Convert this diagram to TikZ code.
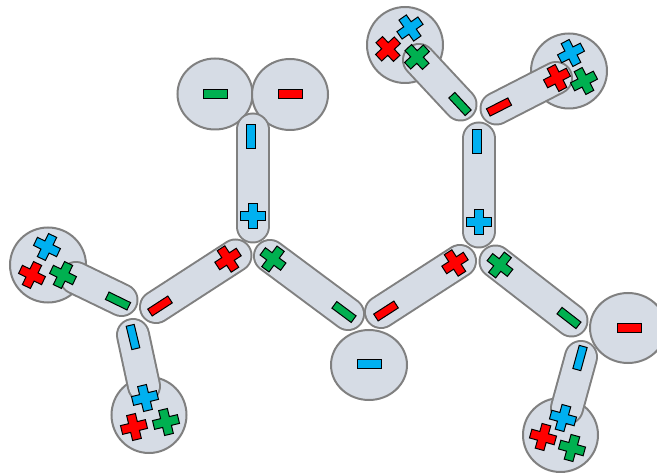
\documentclass[tikz,border=0pt]{standalone}
\definecolor{cblue}{RGB}{0,176,240}
\definecolor{cred}{RGB}{255,0,0}
\definecolor{cgreen}{RGB}{0,176,80}
\definecolor{shade}{RGB}{214,220,229}
\definecolor{rim}{RGB}{128,128,128}
\tikzset{
  pics/symplus/.style={code={\draw[line width=1pt, fill=#1]
    (-4.5,-12.8)--(4.5,-12.8)--(4.5,-4.5)--(12.8,-4.5)--(12.8,4.5)--(4.5,4.5)--
    (4.5,12.8)--(-4.5,12.8)--(-4.5,4.5)--(-12.8,4.5)--(-12.8,-4.5)--(-4.5,-4.5)--cycle;}},
  pics/symminus/.style={code={\draw[line width=1pt, fill=#1] (-12,-4.1) rectangle (12,4.1);}},
  blob/.style={draw=rim, line width=2pt, fill=shade},
  capout/.style={draw=rim, line width=34pt, line cap=round},
  capin/.style={draw=shade, line width=30pt, line cap=round},
}
\newcommand\Capsule[2]{\draw[capout] (#1) -- (#2); \draw[capin] (#1) -- (#2);}
\begin{document}
\begin{tikzpicture}[x=1pt,y=-1pt]
\clip (0,0) rectangle (657,473);
\fill[white] (0,0) rectangle (657,473);
% circles
\coordinate (c1) at (215,94);
\coordinate (c2) at (290,94.5);
\coordinate (c3) at (48,265);
\coordinate (c4) at (149,415);
\coordinate (c5) at (405,45);
\coordinate (c6) at (569,71);
\coordinate (c7) at (369,365);
\coordinate (c8) at (628,328);
\coordinate (c9) at (560.5,435);
\draw[blob] (c1) ellipse [x radius=37.5pt, y radius=35.5pt];
\draw[blob] (c2) ellipse [x radius=38pt, y radius=35.5pt];
\draw[blob] (c3) ellipse [x radius=38pt, y radius=37.5pt];
\draw[blob] (c4) ellipse [x radius=37.5pt, y radius=38pt];
\draw[blob] (c5) ellipse [x radius=38pt, y radius=38pt];
\draw[blob] (c6) ellipse [x radius=38pt, y radius=37.5pt];
\draw[blob] (c7) ellipse [x radius=38pt, y radius=35pt];
\draw[blob] (c8) ellipse [x radius=38pt, y radius=35pt];
\draw[blob] (c9) ellipse [x radius=37.5pt, y radius=37pt];
% capsule axes
\coordinate (v1a) at (252.5,129.5); \coordinate (v1b) at (252.5,226.5);
\coordinate (v2a) at (478.5,138.5); \coordinate (v2b) at (478.5,231.5);
\coordinate (lga) at (76,278);      \coordinate (lgb) at (121.5,300);
\coordinate (lba) at (133,335);     \coordinate (lbb) at (144,386);
\coordinate (lra) at (156,307);     \coordinate (lrb) at (235.5,255.5);
\coordinate (mga) at (270,256);     \coordinate (mgb) at (348,314);
\coordinate (mra) at (381,312);     \coordinate (mrb) at (460,261);
\coordinate (tla) at (419,60);      \coordinate (tlb) at (460.5,104.5);
\coordinate (tra) at (496.5,108.5); \coordinate (trb) at (556,78);
\coordinate (rga) at (495.5,261.5); \coordinate (rgb) at (571.5,320.5);
\coordinate (rba) at (581,357);     \coordinate (rbb) at (567,408);
\Capsule{v1a}{v1b}
\Capsule{v2a}{v2b}
\Capsule{lga}{lgb}
\Capsule{lba}{lbb}
\Capsule{lra}{lrb}
\Capsule{mga}{mgb}
\Capsule{mra}{mrb}
\Capsule{tla}{tlb}
\Capsule{tra}{trb}
\Capsule{rga}{rgb}
\Capsule{rba}{rbb}
% symbols
\pic at (215,94) {symminus=cgreen};
\pic at (290,94) {symminus=cred};
\pic[rotate=90] at (251,137) {symminus=cblue};
\pic at (253,216) {symplus=cblue};
\pic[rotate=35] at (410,28) {symplus=cblue};
\pic[rotate=43] at (388,49) {symplus=cred};
\pic[rotate=43] at (417,57) {symplus=cgreen};
\pic[rotate=-47] at (460,104) {symminus=cgreen};
\pic[rotate=27] at (499,107) {symminus=cred};
\pic[rotate=27] at (571,53) {symplus=cblue};
\pic[rotate=27] at (557,78) {symplus=cred};
\pic[rotate=27] at (584,81) {symplus=cgreen};
\pic[rotate=90] at (477,142) {symminus=cblue};
\pic at (479,222) {symplus=cblue};
\pic[rotate=-26] at (47,247) {symplus=cblue};
\pic[rotate=-26] at (32,275) {symplus=cred};
\pic[rotate=-26] at (63,275) {symplus=cgreen};
\pic[rotate=-26] at (118,301) {symminus=cgreen};
\pic[rotate=33] at (160,306) {symminus=cred};
\pic[rotate=33] at (228,259) {symplus=cred};
\pic[rotate=103.5] at (133,337) {symminus=cblue};
\pic[rotate=13.5] at (145,398) {symplus=cblue};
\pic[rotate=13.5] at (134,427) {symplus=cred};
\pic[rotate=13.5] at (166,422) {symplus=cgreen};
\pic[rotate=-36.6] at (273,259) {symplus=cgreen};
\pic[rotate=-36.6] at (344,312) {symminus=cgreen};
\pic[rotate=32.8] at (386,311) {symminus=cred};
\pic[rotate=32.8] at (455,263) {symplus=cred};
\pic at (369,364) {symminus=cblue};
\pic[rotate=-37.8] at (500,265) {symplus=cgreen};
\pic[rotate=-37.8] at (569,318) {symminus=cgreen};
\pic at (629,328) {symminus=cred};
\pic[rotate=74.6] at (580,358) {symminus=cblue};
\pic[rotate=-15.4] at (563,418) {symplus=cblue};
\pic[rotate=-15.4] at (543,437) {symplus=cred};
\pic[rotate=-15.4] at (572,448) {symplus=cgreen};
\end{tikzpicture}
\end{document}
